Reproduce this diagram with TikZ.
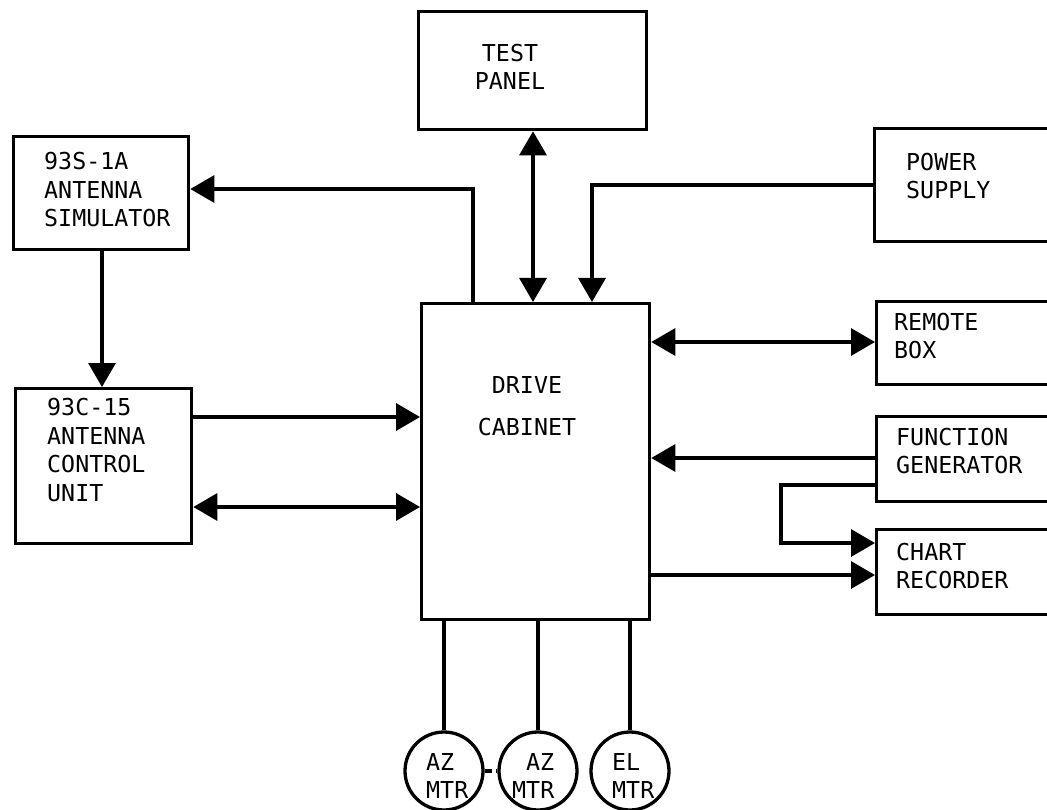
\documentclass[tikz,border=0pt]{standalone}
\usepackage{fontspec}
\newfontfamily\lettering{DejaVu Sans Mono}
\usetikzlibrary{arrows.meta}
\tikzset{
  wire/.style={line width=3.3pt, line join=miter},
  box/.style={draw, line width=3.3pt, rectangle, inner sep=0pt, anchor=north west},
  motor/.style={draw, line width=3.3pt, circle, inner sep=0pt, minimum size=78pt},
  lbl/.style={font=\lettering\fontsize{23.3pt}{28.5pt}\selectfont, align=left, anchor=west, inner sep=0pt},
  lblc/.style={font=\lettering\fontsize{23.3pt}{28.5pt}\selectfont, align=center, inner sep=0pt},
  arr/.style={-{Triangle[length=24pt,width=27pt]}},
  dbl/.style={{Triangle[length=24pt,width=27pt]}-{Triangle[length=24pt,width=27pt]}},
}
\begin{document}
\begin{tikzpicture}[x=1pt,y=-1pt]
\useasboundingbox (0,0) rectangle (1047,810);
\fill[white] (0,0) rectangle (1047,810);

% boxes
\node[box, minimum width=228pt, minimum height=118pt] (tp) at (417,10) {};
\node[box, minimum width=175pt, minimum height=113pt] (sim) at (12,135) {};
\node[box, minimum width=176pt, minimum height=155pt] (acu) at (14,387) {};
\node[box, minimum width=228pt, minimum height=316pt] (dc) at (420,302) {};
\node[box, minimum width=200pt, minimum height=113pt] (ps) at (873,127) {};
\node[box, minimum width=200pt, minimum height=83pt] (rb) at (875,300) {};
\node[box, minimum width=200pt, minimum height=85pt] (fg) at (875,415) {};
\node[box, minimum width=200pt, minimum height=85pt] (cr) at (875,528) {};
\node[motor] (m1) at (444,771) {};
\node[motor] (m2) at (538,771) {};
\node[motor] (m3) at (630,771) {};

% texts
\node[lblc] (tpt) at (510,67) {TEST\\PANEL};
\node[lbl] (simt) at (44,190) {93S-1A\\ANTENNA\\SIMULATOR};
\node[lbl] (acut) at (47,450) {93C-15\\ANTENNA\\CONTROL\\UNIT};
\node[lblc] (dct) at (527,406) {DRIVE\\[14pt]CABINET};
\node[lbl] (pst) at (906,176) {POWER\\SUPPLY};
\node[lbl] (rbt) at (894,336) {REMOTE\\BOX};
\node[lbl] (fgt) at (896,451) {FUNCTION\\GENERATOR};
\node[lbl] (crt) at (896,566) {CHART\\RECORDER};
\node[lbl] (m1a) at (426,762) {AZ};
\node[lbl] (m1b) at (426,790) {MTR};
\node[lbl] (m2a) at (526,762) {AZ};
\node[lbl] (m2b) at (512,790) {MTR};
\node[lbl] (m3a) at (612,762) {EL};
\node[lbl] (m3b) at (612,790) {MTR};

% connectors
\draw[wire, dbl] (tp.south -| 533,0) -- (dc.north -| 533,0);
\draw[wire, arr] (ps.west |- 0,185) -| (dc.north -| 592,0);
\draw[wire, arr] (dc.north -| 473,0) |- (sim.east |- 0,189);
\draw[wire, arr] (sim.south -| 102,0) -- (acu.north -| 102,0);
\draw[wire, arr] (acu.east |- 0,417) -- (dc.west |- 0,417);
\draw[wire, dbl] (acu.east |- 0,507) -- (dc.west |- 0,507);
\draw[wire, dbl] (dc.east |- 0,342) -- (rb.west |- 0,342);
\draw[wire, arr] (fg.west |- 0,458) -- (dc.east |- 0,458);
\draw[wire, arr] (fg.west |- 0,485) -- (781,485) |- (cr.west |- 0,543);
\draw[wire, arr] (dc.east |- 0,575) -- (cr.west |- 0,575);
\draw[wire] (dc.south -| m1.north) -- (m1.north);
\draw[wire] (dc.south -| m2.north) -- (m2.north);
\draw[wire] (dc.south -| m3.north) -- (m3.north);
\draw[wire, dash pattern=on 7pt off 4pt] (m1.east) -- (m2.west);
\end{tikzpicture}
\end{document}
